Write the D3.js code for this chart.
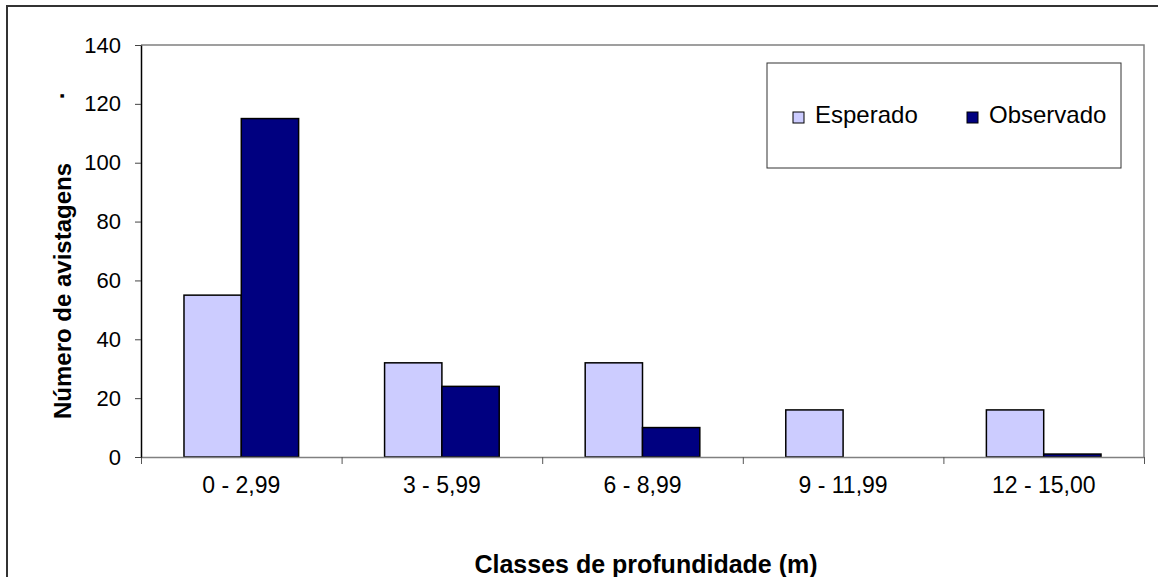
<!DOCTYPE html>
<html>
<head>
<meta charset="utf-8">
<script src="https://cdn.jsdelivr.net/npm/d3@7"></script>
<style>
    body { margin: 0; background: #fff; }
    svg { display: block; font-family: "Liberation Sans", Arial, sans-serif; }
</style>
</head>
<body>
<div id="chart"></div>
<script>
var categories = ['0 - 2,99', '3 - 5,99', '6 - 8,99', '9 - 11,99', '12 - 15,00'];
var seriesNames = ['Esperado', 'Observado'];
var esperado = [55, 32, 32, 16, 16];
var observado = [115, 24, 10, 0, 1];
var yTicks = [0, 20, 40, 60, 80, 100, 120, 140];
var colors = ['#ccccff', '#000080'];

var width = 1158,
    height = 577,
    plot = {left: 141, right: 1144, top: 45, bottom: 457};

var svg = d3.select('#chart').append('svg')
    .attr('width', width)
    .attr('height', height);

// outer chart border (runs off the right/bottom edge)
svg.append('rect')
    .attr('x', 7).attr('y', 6)
    .attr('width', width + 20).attr('height', height + 20)
    .attr('fill', '#fff')
    .attr('stroke', '#333')
    .attr('stroke-width', 2);

var x0 = d3.scaleBand()
        .domain(categories)
        .range([plot.left, plot.right])
        .padding(0),
    x1 = d3.scaleBand()
        .domain(seriesNames)
        .range([0, x0.bandwidth()])
        .paddingInner(0)
        .paddingOuter(0.75),
    xEdges = d3.scaleLinear()
        .domain([0, categories.length])
        .range([plot.left, plot.right]),
    y = d3.scaleLinear()
        .domain([0, 140])
        .range([plot.bottom, plot.top]);

// plot frame: top and right in gray
svg.append('path')
    .attr('d', 'M' + plot.left + ',' + plot.top + 'H' + plot.right + 'V' + plot.bottom)
    .attr('fill', 'none')
    .attr('stroke', '#808080')
    .attr('stroke-width', 1.5);

var rows = categories.map(function (c, i) {
    return {cat: c, values: [esperado[i], observado[i]]};
});

var group = svg.selectAll('.group')
    .data(rows)
    .enter().append('g')
    .attr('class', 'group')
    .attr('transform', function (d) {
        return 'translate(' + x0(d.cat) + ',0)';
    });

group.selectAll('rect')
    .data(function (d) {
        return d.values.map(function (v, j) {
            return {key: seriesNames[j], value: v, idx: j};
        });
    })
    .enter().append('rect')
    .filter(function (d) { return d.value > 0; })
    .attr('x', function (d) { return x1(d.key); })
    .attr('y', function (d) { return y(d.value); })
    .attr('width', x1.bandwidth())
    .attr('height', function (d) { return y(0) - y(d.value); })
    .attr('fill', function (d) { return colors[d.idx]; })
    .attr('stroke', '#000')
    .attr('stroke-width', 1.5);

// x axis: boundary ticks
var xAxisG = svg.append('g')
    .attr('transform', 'translate(0,' + plot.bottom + ')')
    .call(d3.axisBottom(xEdges)
        .tickValues(d3.range(categories.length + 1))
        .tickFormat('')
        .tickSize(7)
        .tickSizeOuter(0));
xAxisG.select('.domain').attr('stroke', '#808080').attr('stroke-width', 1.5);
xAxisG.selectAll('.tick line').attr('stroke', '#555');

// x axis labels
var xLabels = svg.append('g')
    .attr('transform', 'translate(0,' + plot.bottom + ')')
    .call(d3.axisBottom(x0).tickSize(0).tickPadding(20));
xLabels.select('.domain').remove();
xLabels.selectAll('text')
    .attr('font-size', 23)
    .attr('font-family', '"Liberation Sans", Arial, sans-serif')
    .attr('fill', '#000');

// y axis
var yAxisG = svg.append('g')
    .attr('transform', 'translate(' + plot.left + ',0)')
    .call(d3.axisLeft(y)
        .tickValues(yTicks)
        .tickSize(6)
        .tickPadding(14)
        .tickSizeOuter(0));
yAxisG.select('.domain').attr('stroke', '#000').attr('stroke-width', 1.5);
yAxisG.selectAll('.tick line').attr('stroke', '#444');
yAxisG.selectAll('text')
    .attr('font-size', 22)
    .attr('font-family', '"Liberation Sans", Arial, sans-serif')
    .attr('fill', '#000');

// axis titles
svg.append('text')
    .attr('x', 646)
    .attr('y', 573)
    .attr('text-anchor', 'middle')
    .attr('font-size', 25)
    .attr('font-weight', 'bold')
    .text('Classes de profundidade (m)');

svg.append('text')
    .attr('transform', 'translate(71,291) rotate(-90)')
    .attr('text-anchor', 'middle')
    .attr('font-size', 24)
    .attr('font-weight', 'bold')
    .text('Número de avistagens');

svg.append('text')
    .attr('transform', 'translate(64,96) rotate(-90)')
    .attr('text-anchor', 'middle')
    .attr('font-size', 24)
    .attr('font-weight', 'bold')
    .text('.');

// legend
var legend = svg.append('g').attr('transform', 'translate(767,63)');
legend.append('rect')
    .attr('width', 354).attr('height', 105)
    .attr('fill', '#fff')
    .attr('stroke', '#333')
    .attr('stroke-width', 1);

var legendX = [26, 200];
var item = legend.selectAll('.item')
    .data(seriesNames)
    .enter().append('g')
    .attr('class', 'item')
    .attr('transform', function (d, i) {
        return 'translate(' + legendX[i] + ',49)';
    });
item.append('rect')
    .attr('width', 11).attr('height', 11)
    .attr('fill', function (d, i) { return colors[i]; })
    .attr('stroke', '#000')
    .attr('stroke-width', 1);
item.append('text')
    .attr('x', 22)
    .attr('y', 11)
    .attr('font-size', 24)
    .text(function (d) { return d; });
</script>
</body>
</html>
